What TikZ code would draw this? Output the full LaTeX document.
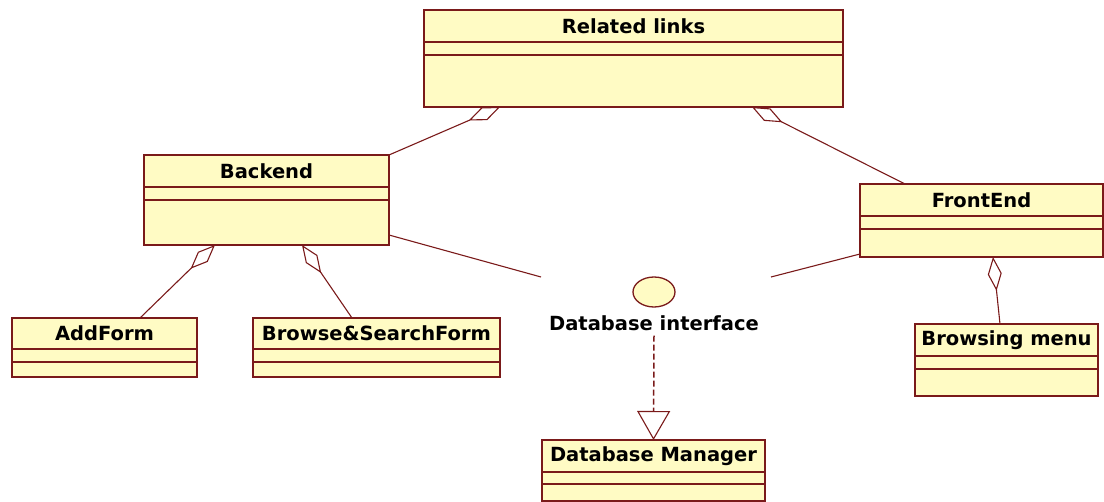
\documentclass[tikz,border=0pt]{standalone}
\usepackage{fontspec}
\setmainfont{DejaVu Sans}
\usetikzlibrary{arrows.meta,calc,shapes.geometric}
\definecolor{umlfill}{HTML}{FFFBC4}
\definecolor{umlline}{HTML}{7A1A1A}
\newcommand\umlbox[8]{%
  \node[clsbox, minimum width={#4-#2}, minimum height={#5-#3}] (#1) at ({(#2+#4)/2},{(#3+#5)/2}) {};
  \draw[clsline] (#2,#6) -- (#4,#6) (#2,#7) -- (#4,#7);
  \node[clstitle] (#1-t) at ({(#2+#4)/2},{(#3+#6)/2}) {#8};
}
\begin{document}
\begin{tikzpicture}[x=1pt,y=-1pt,
  clsbox/.style={draw=umlline, fill=umlfill, line width=1.3pt, inner sep=0pt, outer sep=0pt, rectangle},
  clsline/.style={draw=umlline, line width=1.3pt},
  clstitle/.style={font=\fontsize{19.5}{21}\selectfont\bfseries, text=black, inner sep=0pt},
  agg/.style={draw=umlline, line width=1.1pt, -{Diamond[open, length=34pt, width=14pt, line width=1.1pt]}},
  conn/.style={draw=umlline, line width=1.1pt},
  real/.style={draw=umlline, line width=1.5pt, dash pattern=on 6pt off 3pt, -{Triangle[open, length=29pt, width=33pt, line width=1.1pt]}},
  iface/.style={ellipse, draw=umlline, fill=umlfill, line width=1.3pt, minimum width=42pt, minimum height=30pt, inner sep=0pt}
]
\useasboundingbox (0,0) rectangle (1104,502);
\umlbox{rl}{424}{10}{843}{107}{42}{55}{Related links}
\umlbox{bk}{144}{155}{389}{245}{187}{200}{Backend}
\umlbox{fe}{860}{184}{1103}{257}{216}{229}{FrontEnd}
\umlbox{af}{12}{318}{197}{377}{349}{362}{AddForm}
\umlbox{bs}{253}{318}{500}{377}{349}{362}{Browse\&SearchForm}
\umlbox{bm}{915}{324}{1098}{396}{356}{369}{Browsing menu}
\umlbox{dm}{542}{440}{765}{501}{472}{484}{Database Manager}
\node[iface] (if) at (654,292) {};
\node[clstitle] (ift) at (654,323) {Database interface};
\coordinate (ifl) at (541,277);
\coordinate (ifr) at (771,277);
\draw[agg] (bk.north east) -- ($(rl.south west)+(76,0)$);
\draw[agg] ($(fe.north west)+(45,0)$) -- ($(rl.south west)+(328,0)$);
\draw[agg] ($(af.north west)+(128,0)$) -- ($(bk.south west)+(71,0)$);
\draw[agg] ($(bs.north west)+(99,0)$) -- ($(bk.south west)+(158,0)$);
\draw[agg] ($(bm.north west)+(85,0)$) -- ($(fe.south west)+(133,0)$);
\draw[conn] ($(bk.south east)+(0,-10)$) -- (ifl);
\draw[conn] ($(fe.south west)+(0,-3)$) -- (ifr);
\draw[real] ($(ift.south)+(0,5)$) -- (dm.north);
\end{tikzpicture}
\end{document}
